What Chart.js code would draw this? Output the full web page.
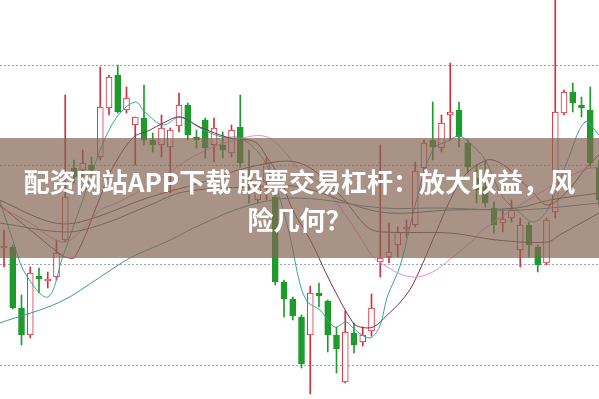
<!DOCTYPE html>
<html>
<head>
<meta charset="utf-8">
<script src="https://cdn.jsdelivr.net/npm/chart.js@4"></script>
<style>
  html, body { margin: 0; padding: 0; background: #fff; overflow: hidden; }
  #wrap { position: relative; width: 599px; height: 399px; }
  #banner {
    position: absolute; left: 0; top: 138px; width: 599px; height: 120px;
    box-sizing: border-box; padding-top: 24px;
    background: rgba(132, 101, 84, 0.7);
    color: #fff; text-align: center;
    font-family: "Noto Sans CJK SC", sans-serif; font-weight: bold;
    font-size: 26px; line-height: 38px;
  }
</style>
</head>
<body>
<div id="wrap">
  <canvas id="kline" width="599" height="399"></canvas>
  <div id="banner">配资网站APP下载 股票交易杠杆：放大收益，风<br>险几何？</div>
</div>
<script>
// daily candles, left to right
const openPrices = [21.7, 21.8, 15.7, 13.0, 18.9, 18.4, 18.8, 22.5, 29.7, 29.5,
  30.0, 30.8, 35.7, 39.0, 35.5, 34.0, 34.7, 32.5, 32.0, 31.8,
  33.9, 36.0, 32.8, 34.5, 32.0, 32.0, 31.2, 33.8, 28.5, 26.5,
  28.3, 26.8, 18.3, 16.6, 14.8, 13.0, 17.2, 16.4, 13.0, 8.3,
  13.2, 12.3, 13.4, 20.3, 20.8, 22.0, 23.6, 24.0, 29.7, 32.5,
  31.7, 35.0, 35.5, 32.2, 28.7, 27.8, 25.7, 24.2, 24.7, 21.5,
  24.0, 21.8, 20.2, 25.3, 35.2, 37.3, 36.0, 35.5, 29.8];
const closePrices = [21.9, 15.7, 13.0, 19.2, 18.6, 18.6, 21.2, 26.8, 28.8, 30.2,
  29.5, 35.8, 38.8, 35.3, 36.7, 34.8, 32.5, 32.0, 33.7, 33.5,
  36.0, 33.0, 32.5, 31.7, 33.7, 31.5, 33.5, 30.2, 28.0, 28.0,
  30.2, 18.3, 16.6, 14.9, 10.1, 17.2, 16.9, 13.0, 11.6, 13.3,
  12.0, 13.0, 15.7, 20.7, 21.3, 23.3, 23.8, 29.4, 32.2, 31.8,
  34.2, 35.3, 32.8, 29.8, 27.5, 26.2, 24.0, 24.6, 25.5, 24.0,
  22.0, 20.0, 24.5, 35.3, 37.3, 36.2, 35.7, 30.2, 26.5];
const highPrices = [23.5, 22.0, 17.0, 19.8, 19.7, 19.3, 22.5, 37.0, 30.5, 31.5,
  30.8, 39.8, 39.0, 40.0, 37.8, 34.8, 38.0, 33.2, 35.0, 33.7,
  37.2, 36.2, 33.5, 34.7, 34.7, 33.3, 34.0, 37.0, 31.5, 28.3,
  30.7, 27.0, 18.5, 16.8, 15.0, 17.9, 18.2, 16.5, 13.8, 15.4,
  14.2, 13.8, 17.1, 32.0, 24.2, 23.8, 24.5, 30.3, 32.5, 36.3,
  35.0, 40.2, 36.3, 32.5, 30.0, 30.5, 26.3, 25.5, 26.5, 24.7,
  24.3, 22.0, 24.7, 47.0, 37.5, 38.2, 36.8, 37.8, 30.5];
const lowPrices = [19.8, 15.6, 12.0, 12.7, 17.2, 17.7, 18.5, 22.3, 28.2, 28.8,
  29.0, 30.5, 35.0, 35.2, 35.2, 30.0, 32.0, 31.3, 30.8, 27.2,
  33.3, 32.5, 31.7, 30.7, 30.3, 30.7, 30.8, 29.8, 26.2, 26.2,
  26.5, 18.0, 14.8, 14.5, 9.7, 7.1, 15.8, 11.3, 9.2, 8.2,
  11.2, 11.9, 12.9, 18.8, 20.2, 20.8, 22.8, 23.8, 29.3, 30.5,
  31.3, 32.5, 31.8, 29.2, 26.2, 25.8, 23.2, 23.3, 24.3, 19.8,
  20.8, 19.3, 20.0, 24.7, 35.0, 35.3, 34.8, 29.8, 26.0];

// moving averages: [candle index, price]
const ma5 = [[-0.5, 26.5], [1, 22.5], [2.4, 19.2], [5, 16.8], [6.7, 20.8], [9, 26.5], [11, 31.5],
  [12.9, 34.8], [15, 36.3], [16.1, 35.3], [18.2, 34.0], [20.1, 34.8], [22.4, 33.7], [24.9, 32.8],
  [27, 32.7], [29.3, 31.0], [31.2, 27.5], [32.7, 22.8], [33.8, 18.2], [34.7, 16.3], [36.1, 15.5],
  [37.8, 13.8], [39.1, 14.3], [39.9, 13.7], [41.3, 12.8], [42.1, 12.8], [43, 14.0], [43.8, 16.8],
  [45.3, 20.0], [47, 26.0], [49, 31.5], [51, 32.5], [52.1, 32.9], [54.1, 31.5], [55.2, 30.2],
  [57, 26.8], [59, 25.2], [60.5, 24.3], [62.1, 25.5], [64.3, 30.2], [66.4, 34.3], [68, 33.0]];
const ma10 = [[-0.5, 26.0], [3, 23.5], [6.1, 21.3], [7, 20.8], [8.1, 20.8], [11, 26.8], [12.1, 29.2],
  [14.7, 32.7], [16.7, 33.5], [18.2, 34.2], [20.1, 34.8], [22.4, 33.8], [25.8, 32.7], [28.7, 32.3],
  [30.1, 30.7], [31.5, 28.8], [33, 25.5], [35, 22.5], [37.3, 18.3], [39.9, 14.2], [40.7, 13.8],
  [42.2, 13.8], [43.8, 15.0], [45.3, 16.3], [46.7, 18.0], [49, 22.5], [51, 26.5], [52.7, 29.0],
  [55.2, 30.5], [56.7, 30.2], [58.2, 29.2], [60.5, 27.2], [62.1, 26.0], [64.3, 27.3], [66.6, 29.8], [68, 31.0]];
const ma20 = [[-0.5, 25.8], [3, 24.2], [5.3, 22.8], [7, 22.3], [8.7, 23.3], [11, 25.5], [12.9, 26.2],
  [16.7, 28.0], [22.4, 31.2], [27.8, 32.8], [30.1, 32.8], [31.9, 31.5], [33.8, 29.5], [36.1, 28.2],
  [38.4, 25.8], [40.7, 22.8], [42.2, 20.8], [43.8, 19.8], [45.6, 19.0], [47.2, 18.8], [49, 19.3],
  [50.6, 20.3], [53.6, 22.5], [54.7, 23.5], [58.6, 25.8], [62.4, 27.8], [66.2, 29.5], [68, 29.8]];
const ma30 = [[-0.5, 26.5], [5.3, 24.3], [8.7, 24.3], [16.7, 26.8], [22.4, 28.2], [28.1, 29.8],
  [33.8, 30.2], [38.4, 27.0], [41.5, 23.8], [43.3, 23.3], [51, 23.2], [56.3, 22.5], [62.1, 22.3],
  [63.5, 23.0], [68, 25.2]];
const ma60 = [[-0.5, 24.2], [7, 23.3], [11, 24.0], [16.7, 26.0], [20.5, 27.3], [28.1, 27.8],
  [33.8, 27.8], [43, 25.3], [51, 25.5], [58.6, 25.7], [62.4, 26.5], [68, 27.2]];
const ma120 = [[-0.5, 14.2], [6.4, 16.3], [11, 18.8], [14.4, 20.7], [19, 22.5], [22.4, 24.0],
  [28.1, 26.0], [33.8, 26.7], [43.3, 25.7], [50.2, 25.7], [59, 25.5], [68, 26.2]];

const UP = "#d0303c";
const DOWN = "#1f9a2c";

const isUp = openPrices.map((o, i) => closePrices[i] >= o);
const candleColors = isUp.map(up => (up ? UP : DOWN));
const bodyFills = isUp.map(up => (up ? "#ffffff" : DOWN));

const wickData = highPrices.map((h, i) => ({ x: i, y: [lowPrices[i], h] }));
const bodyData = openPrices.map((o, i) => ({ x: i, y: [o, closePrices[i]] }));

function maLine(points, color) {
  return {
    type: "line",
    data: points.map(p => ({ x: p[0], y: p[1] })),
    borderColor: color,
    borderWidth: 1,
    pointRadius: 0,
    tension: 0.35,
    fill: false,
    order: 1
  };
}

new Chart(document.querySelector("#kline"), {
  type: "bar",
  data: {
    datasets: [
      {
        data: wickData,
        backgroundColor: candleColors,
        barThickness: 1,
        grouped: false,
        order: 3
      },
      {
        data: bodyData,
        backgroundColor: bodyFills,
        borderColor: candleColors,
        borderWidth: 1,
        borderSkipped: false,
        barThickness: 6,
        grouped: false,
        order: 2
      },
      maLine(ma120, "#3f93a8"),
      maLine(ma60, "#5b6a4c"),
      maLine(ma30, "#6a4a4a"),
      maLine(ma20, "#e48bdc"),
      maLine(ma10, "#7d2f55"),
      maLine(ma5, "#3aa0a8")
    ]
  },
  options: {
    responsive: false,
    animation: false,
    events: [],
    layout: { padding: 0 },
    plugins: {
      legend: { display: false },
      tooltip: { enabled: false }
    },
    scales: {
      x: {
        type: "linear",
        min: -0.457,
        max: 68,
        offset: false,
        display: false
      },
      y: {
        min: 6.6,
        max: 46.5,
        ticks: { display: false, stepSize: 10, includeBounds: false },
        grid: { color: "#a3a3a3", drawTicks: false },
        border: { display: false, dash: [2, 2] }
      }
    }
  }
});
</script>
</body>
</html>
